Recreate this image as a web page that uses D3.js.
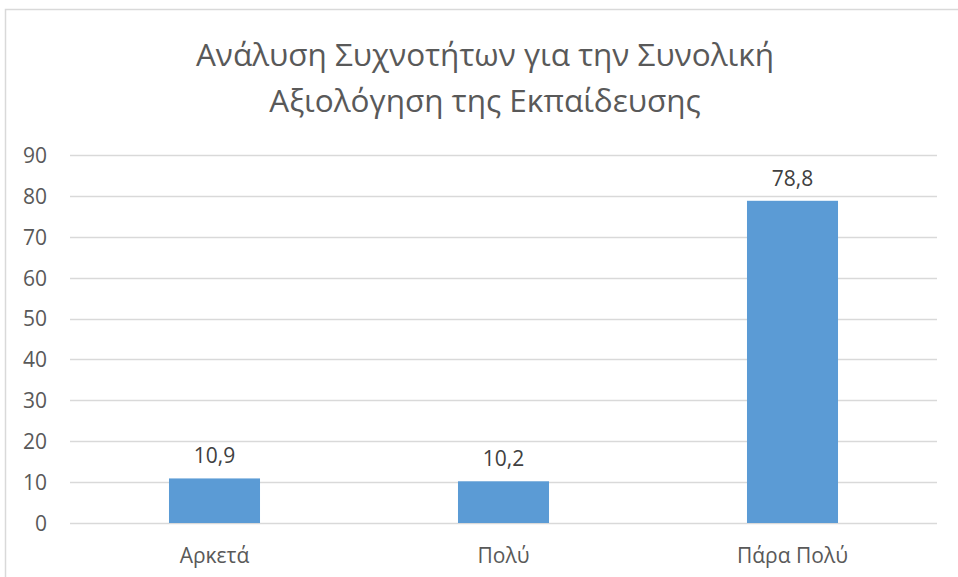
<!DOCTYPE html>
<html>
<head>
<meta charset="utf-8">
<script src="https://cdn.jsdelivr.net/npm/d3@7"></script>
<style>
  html, body { margin: 0; padding: 0; background: #fff; }
  svg { display: block; }
</style>
</head>
<body>
<svg id="chart" width="958" height="577"></svg>
<script>
// Chart data
const categories = ["Αρκετά", "Πολύ", "Πάρα Πολύ"];
const values = [10.9, 10.2, 78.8];
const valueLabels = ["10,9", "10,2", "78,8"];
const yTicks = [0, 10, 20, 30, 40, 50, 60, 70, 80, 90];
const titleLines = ["Ανάλυση Συχνοτήτων για την Συνολική", "Αξιολόγηση της Εκπαίδευσης"];

const W = 958, H = 577;
const font = "'Open Sans', 'Noto Sans', sans-serif";
const plot = { left: 70, right: 937, top: 155, bottom: 523 };

const svg = d3.select("#chart");

// Outer chart frame
svg.append("rect")
  .attr("x", 5.5).attr("y", 9.5)
  .attr("width", W + 10).attr("height", H + 10)
  .attr("fill", "#fff")
  .attr("stroke", "#d9d9d9")
  .attr("stroke-width", 1.5);

// Title
svg.append("text")
  .attr("text-anchor", "middle")
  .attr("font-family", font)
  .attr("font-size", 31.5)
  .attr("fill", "#595959")
  .selectAll("tspan")
  .data(titleLines)
  .join("tspan")
  .attr("x", 485)
  .attr("y", (d, i) => 66 + i * 46)
  .text(d => d);

const x = d3.scaleBand()
  .domain(categories)
  .range([plot.left, plot.right])
  .padding(0);

const y = d3.scaleLinear()
  .domain([0, 90])
  .range([plot.bottom, plot.top]);

// Gridlines
svg.append("g")
  .selectAll("line")
  .data(yTicks)
  .join("line")
  .attr("x1", plot.left).attr("x2", plot.right)
  .attr("y1", d => Math.round(y(d)) + 0.5)
  .attr("y2", d => Math.round(y(d)) + 0.5)
  .attr("stroke", "#d9d9d9")
  .attr("stroke-width", 1.5);

// Y axis labels
const yAxis = d3.axisLeft(y).tickValues(yTicks).tickSize(0).tickPadding(0);
const yg = svg.append("g")
  .attr("transform", `translate(47,0)`)
  .call(yAxis);
yg.select(".domain").remove();
yg.selectAll("text")
  .attr("font-family", font)
  .attr("font-size", 21)
  .attr("fill", "#595959")
  .attr("dy", "0.35em");

// Bars
const barW = x.bandwidth() * 0.315;
svg.append("g")
  .selectAll("rect")
  .data(categories)
  .join("rect")
  .attr("x", d => x(d) + x.bandwidth() / 2 - barW / 2)
  .attr("width", barW)
  .attr("y", (d, i) => y(values[i]))
  .attr("height", (d, i) => y(0) - y(values[i]))
  .attr("fill", "#5b9bd5");

// Value labels
svg.append("g")
  .selectAll("text")
  .data(categories)
  .join("text")
  .attr("x", d => x(d) + x.bandwidth() / 2)
  .attr("y", (d, i) => y(values[i]) - 15)
  .attr("text-anchor", "middle")
  .attr("font-family", font)
  .attr("font-size", 21)
  .attr("fill", "#404040")
  .text((d, i) => valueLabels[i]);

// X axis labels
const xAxis = d3.axisBottom(x).tickSize(0).tickPadding(0);
const xg = svg.append("g")
  .attr("transform", `translate(0,${plot.bottom + 40})`)
  .call(xAxis);
xg.select(".domain").remove();
xg.selectAll("text")
  .attr("font-family", font)
  .attr("font-size", 21)
  .attr("fill", "#595959")
  .attr("dy", 0);
</script>
</body>
</html>
